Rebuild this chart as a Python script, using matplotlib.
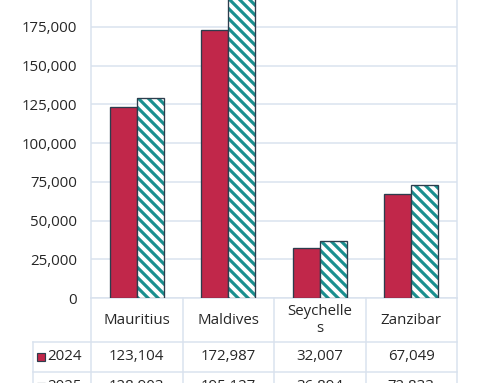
import matplotlib
matplotlib.use("Agg")
import matplotlib.pyplot as plt
from matplotlib.lines import Line2D
from matplotlib.patches import Rectangle
import matplotlib.transforms as mtransforms

categories = ["Mauritius", "Maldives", "Seychelle\ns", "Zanzibar"]
series_names = ["2024", "2025"]
values_2024 = [123104, 172987, 32007, 67049]
values_2025 = [128903, 195127, 36894, 72833]
yticks = [0, 25000, 50000, 75000, 100000, 125000, 150000, 175000]

DPI = 120
W, H = 500, 383
plt.rcParams['font.family'] = ['Open Sans', 'DejaVu Sans']
plt.rcParams['hatch.linewidth'] = 1.9

HATCH = chr(92) * 4
RED = "#C1274A"
TEAL = "#1A8F8F"
EDGE = "#2D3D4D"
GRID = "#D9E2EE"
TXT = "#262626"
FPX = 15.0

def fs(px):
    return px * 72.0 / DPI

fig = plt.figure(figsize=(W / DPI, H / DPI), dpi=DPI)
fig.patch.set_facecolor("white")

# pixel-space overlay axes
tax = fig.add_axes([0, 0, 1, 1], zorder=0)
tax.set_xlim(0, W)
tax.set_ylim(H, 0)
tax.axis("off")

# plot axes
L, R, B, T = 91, 457, 298, 0
ax = fig.add_axes([L / W, 1 - B / H, (R - L) / W, (B - T) / H], zorder=1)
ax.patch.set_alpha(0)
px_per_unit = (298 - 27) / 175000.0
ax.set_ylim(0, (B - T) / px_per_unit)
ax.set_xlim(-0.5, len(categories) - 0.5)

bw = 0.295
x = list(range(len(categories)))
ax.bar([i - bw / 2 for i in x], values_2024, width=bw, color=RED,
       edgecolor=EDGE, linewidth=0.8, zorder=3)
ax.bar([i + bw / 2 for i in x], values_2025, width=bw, color="white",
       edgecolor=TEAL, hatch=HATCH, linewidth=0, zorder=3)
ax.bar([i + bw / 2 for i in x], values_2025, width=bw, fill=False,
       edgecolor=EDGE, linewidth=0.8, zorder=4)

ax.set_yticks(yticks)
ax.set_yticklabels([f"{v:,}" for v in yticks], fontsize=fs(FPX), color=TXT)
ax.tick_params(axis="y", length=0, pad=8.4)
ax.set_xticks([])
ax.grid(axis="y", color=GRID, linewidth=0.9, zorder=0)
ax.spines["top"].set_visible(False)
for s in ["left", "right", "bottom"]:
    ax.spines[s].set_color(GRID)
    ax.spines[s].set_linewidth(0.9)

# data table
lc = GRID
lw = 0.9
row1, row2 = 342, 372
blend = mtransforms.blended_transform_factory(ax.transData, tax.transData)
edges = [i - 0.5 for i in range(len(categories) + 1)]
for e in edges:
    tax.add_line(Line2D([e, e], [B, H + 5], color=lc, lw=lw, transform=blend))
for yy in (row1, row2):
    tax.add_line(Line2D([33, R], [yy, yy], color=lc, lw=lw))
tax.add_line(Line2D([33, 33], [row1, H + 5], color=lc, lw=lw))

for i, c in enumerate(categories):
    tax.text(i, (B + row1) / 2, c, transform=blend, ha="center", va="center",
             fontsize=fs(FPX), color=TXT, linespacing=1.2)
    tax.text(i, (row1 + row2) / 2, f"{values_2024[i]:,}", transform=blend,
             ha="center", va="center", fontsize=fs(FPX), color=TXT)
    tax.text(i, row2 + 15, f"{values_2025[i]:,}", transform=blend,
             ha="center", va="center", fontsize=fs(FPX), color=TXT)

# legend keys in table
for yc, name, style in [((row1 + row2) / 2, series_names[0], "r"),
                        (row2 + 15, series_names[1], "h")]:
    if style == "r":
        tax.add_patch(Rectangle((37, yc - 4), 8, 8, facecolor=RED,
                                edgecolor=EDGE, lw=0.7))
    else:
        tax.add_patch(Rectangle((37, yc - 4), 8, 8, facecolor="white",
                                edgecolor=TEAL, hatch=HATCH, lw=0))
        tax.add_patch(Rectangle((37, yc - 4), 8, 8, fill=False,
                                edgecolor=EDGE, lw=0.7))
    tax.text(47, yc, name, ha="left", va="center", fontsize=fs(FPX), color=TXT)

fig.savefig("out.png", dpi=DPI, facecolor="white")
